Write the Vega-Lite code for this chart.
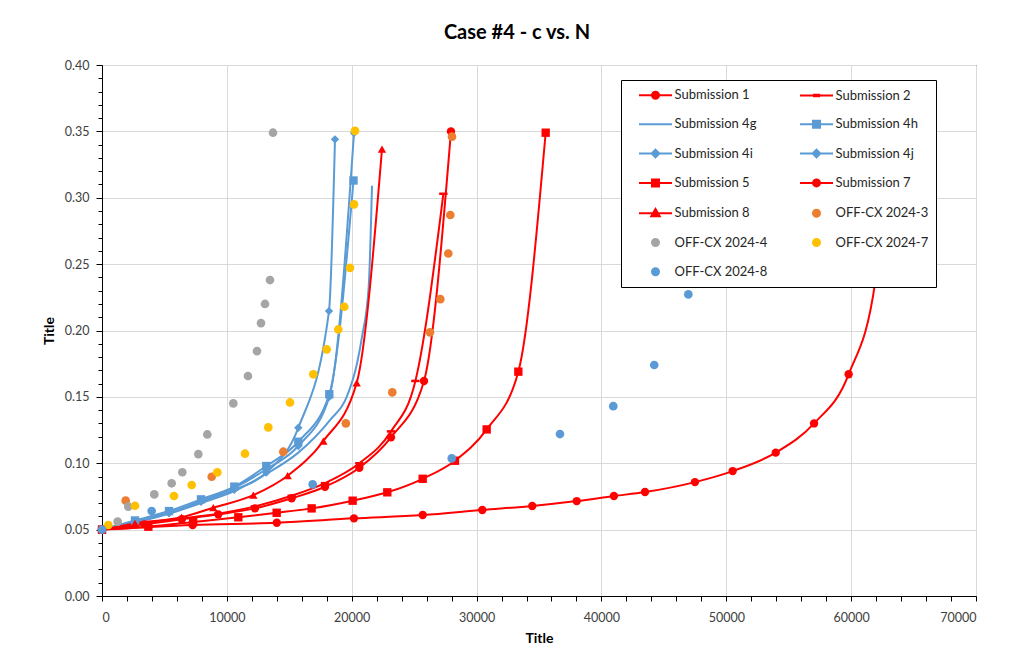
{
  "$schema": "https://vega.github.io/schema/vega-lite/v6.json",
  "width": 874,
  "height": 531,
  "autosize": "none",
  "padding": {"left": 102, "top": 65, "right": 39, "bottom": 70},
  "background": "white",
  "title": {"text": "Case #4 - c vs. N", "font": "Lato", "fontSize": 20, "fontWeight": "bold", "color": "#000000", "anchor": "middle", "dx": -22, "offset": 0, "baseline": "alphabetic"},
  "data": {"values": [
    {"s": "Submission 1", "x": 0, "y": 0.05},
    {"s": "Submission 1", "x": 3400, "y": 0.054},
    {"s": "Submission 1", "x": 6380, "y": 0.0578},
    {"s": "Submission 1", "x": 9315, "y": 0.0615},
    {"s": "Submission 1", "x": 12250, "y": 0.066},
    {"s": "Submission 1", "x": 15190, "y": 0.0736},
    {"s": "Submission 1", "x": 17860, "y": 0.0823},
    {"s": "Submission 1", "x": 20610, "y": 0.0966},
    {"s": "Submission 1", "x": 23146, "y": 0.1195},
    {"s": "Submission 1", "x": 25790, "y": 0.162},
    {"s": "Submission 1", "x": 27950, "y": 0.35},
    {"s": "Submission 2", "x": 0, "y": 0.05},
    {"s": "Submission 2", "x": 3000, "y": 0.0545},
    {"s": "Submission 2", "x": 6380, "y": 0.0585},
    {"s": "Submission 2", "x": 9315, "y": 0.062},
    {"s": "Submission 2", "x": 12250, "y": 0.0675},
    {"s": "Submission 2", "x": 15190, "y": 0.0755},
    {"s": "Submission 2", "x": 17860, "y": 0.085},
    {"s": "Submission 2", "x": 20610, "y": 0.1},
    {"s": "Submission 2", "x": 23146, "y": 0.124},
    {"s": "Submission 2", "x": 25100, "y": 0.162},
    {"s": "Submission 2", "x": 27340, "y": 0.303},
    {"s": "Submission 4g", "x": 0, "y": 0.05},
    {"s": "Submission 4g", "x": 2643, "y": 0.0555},
    {"s": "Submission 4g", "x": 5366, "y": 0.062},
    {"s": "Submission 4g", "x": 7929, "y": 0.07},
    {"s": "Submission 4g", "x": 10596, "y": 0.079},
    {"s": "Submission 4g", "x": 13159, "y": 0.092},
    {"s": "Submission 4g", "x": 15722, "y": 0.108},
    {"s": "Submission 4g", "x": 18260, "y": 0.1325},
    {"s": "Submission 4g", "x": 19600, "y": 0.15},
    {"s": "Submission 4g", "x": 20420, "y": 0.175},
    {"s": "Submission 4g", "x": 20820, "y": 0.195},
    {"s": "Submission 4g", "x": 21360, "y": 0.233},
    {"s": "Submission 4g", "x": 21625, "y": 0.309},
    {"s": "Submission 4h", "x": 0, "y": 0.05},
    {"s": "Submission 4h", "x": 2643, "y": 0.0569},
    {"s": "Submission 4h", "x": 5366, "y": 0.064},
    {"s": "Submission 4h", "x": 7929, "y": 0.0728},
    {"s": "Submission 4h", "x": 10596, "y": 0.0824},
    {"s": "Submission 4h", "x": 13159, "y": 0.0979},
    {"s": "Submission 4h", "x": 15722, "y": 0.1162},
    {"s": "Submission 4h", "x": 18204, "y": 0.152},
    {"s": "Submission 4h", "x": 20143, "y": 0.313},
    {"s": "Submission 4i", "x": 0, "y": 0.05},
    {"s": "Submission 4i", "x": 2643, "y": 0.056},
    {"s": "Submission 4i", "x": 5366, "y": 0.0625},
    {"s": "Submission 4i", "x": 7929, "y": 0.071},
    {"s": "Submission 4i", "x": 10596, "y": 0.08},
    {"s": "Submission 4i", "x": 13159, "y": 0.093},
    {"s": "Submission 4i", "x": 15722, "y": 0.1267},
    {"s": "Submission 4i", "x": 18180, "y": 0.2146},
    {"s": "Submission 4i", "x": 18660, "y": 0.344},
    {"s": "Submission 4j", "x": 0, "y": 0.05},
    {"s": "Submission 4j", "x": 2643, "y": 0.0555},
    {"s": "Submission 4j", "x": 5366, "y": 0.0625},
    {"s": "Submission 4j", "x": 7929, "y": 0.0715},
    {"s": "Submission 4j", "x": 10596, "y": 0.0815},
    {"s": "Submission 4j", "x": 13159, "y": 0.0955},
    {"s": "Submission 4j", "x": 15722, "y": 0.113},
    {"s": "Submission 4j", "x": 18204, "y": 0.15},
    {"s": "Submission 4j", "x": 20183, "y": 0.3487},
    {"s": "Submission 5", "x": 0, "y": 0.05},
    {"s": "Submission 5", "x": 3710, "y": 0.0522},
    {"s": "Submission 5", "x": 7300, "y": 0.0557},
    {"s": "Submission 5", "x": 10917, "y": 0.0593},
    {"s": "Submission 5", "x": 13990, "y": 0.0627},
    {"s": "Submission 5", "x": 16790, "y": 0.066},
    {"s": "Submission 5", "x": 20075, "y": 0.0718},
    {"s": "Submission 5", "x": 22850, "y": 0.0781},
    {"s": "Submission 5", "x": 25685, "y": 0.0883},
    {"s": "Submission 5", "x": 28270, "y": 0.1019},
    {"s": "Submission 5", "x": 30810, "y": 0.1255},
    {"s": "Submission 5", "x": 33345, "y": 0.169},
    {"s": "Submission 5", "x": 35535, "y": 0.349},
    {"s": "Submission 7", "x": 0, "y": 0.05},
    {"s": "Submission 7", "x": 7260, "y": 0.0535},
    {"s": "Submission 7", "x": 14000, "y": 0.0552},
    {"s": "Submission 7", "x": 20180, "y": 0.0585},
    {"s": "Submission 7", "x": 25690, "y": 0.061},
    {"s": "Submission 7", "x": 30460, "y": 0.0648},
    {"s": "Submission 7", "x": 34460, "y": 0.0678},
    {"s": "Submission 7", "x": 38020, "y": 0.0715},
    {"s": "Submission 7", "x": 41000, "y": 0.0753},
    {"s": "Submission 7", "x": 43490, "y": 0.0783},
    {"s": "Submission 7", "x": 47490, "y": 0.0858},
    {"s": "Submission 7", "x": 50510, "y": 0.0941},
    {"s": "Submission 7", "x": 53960, "y": 0.108},
    {"s": "Submission 7", "x": 57030, "y": 0.13},
    {"s": "Submission 7", "x": 59800, "y": 0.167},
    {"s": "Submission 7", "x": 61950, "y": 0.238},
    {"s": "Submission 7", "x": 63000, "y": 0.35},
    {"s": "Submission 8", "x": 0, "y": 0.05},
    {"s": "Submission 8", "x": 2643, "y": 0.0547},
    {"s": "Submission 8", "x": 6380, "y": 0.0593},
    {"s": "Submission 8", "x": 8915, "y": 0.0665},
    {"s": "Submission 8", "x": 12120, "y": 0.076},
    {"s": "Submission 8", "x": 14870, "y": 0.0906},
    {"s": "Submission 8", "x": 17725, "y": 0.1167},
    {"s": "Submission 8", "x": 20400, "y": 0.1606},
    {"s": "Submission 8", "x": 22425, "y": 0.3366},
    {"s": "OFF-CX 2024-3", "x": 1898, "y": 0.0718},
    {"s": "OFF-CX 2024-3", "x": 8786, "y": 0.0898},
    {"s": "OFF-CX 2024-3", "x": 14520, "y": 0.1087},
    {"s": "OFF-CX 2024-3", "x": 19530, "y": 0.13},
    {"s": "OFF-CX 2024-3", "x": 23250, "y": 0.1534},
    {"s": "OFF-CX 2024-3", "x": 26270, "y": 0.1986},
    {"s": "OFF-CX 2024-3", "x": 27095, "y": 0.2236},
    {"s": "OFF-CX 2024-3", "x": 27735, "y": 0.258},
    {"s": "OFF-CX 2024-3", "x": 27895, "y": 0.287},
    {"s": "OFF-CX 2024-3", "x": 28030, "y": 0.346},
    {"s": "OFF-CX 2024-4", "x": 1254, "y": 0.056},
    {"s": "OFF-CX 2024-4", "x": 2106, "y": 0.0673},
    {"s": "OFF-CX 2024-4", "x": 4188, "y": 0.0766},
    {"s": "OFF-CX 2024-4", "x": 5580, "y": 0.0849},
    {"s": "OFF-CX 2024-4", "x": 6433, "y": 0.0932},
    {"s": "OFF-CX 2024-4", "x": 7715, "y": 0.1069},
    {"s": "OFF-CX 2024-4", "x": 8435, "y": 0.1217},
    {"s": "OFF-CX 2024-4", "x": 10516, "y": 0.1451},
    {"s": "OFF-CX 2024-4", "x": 11690, "y": 0.1657},
    {"s": "OFF-CX 2024-4", "x": 12414, "y": 0.1845},
    {"s": "OFF-CX 2024-4", "x": 12734, "y": 0.2056},
    {"s": "OFF-CX 2024-4", "x": 13054, "y": 0.22},
    {"s": "OFF-CX 2024-4", "x": 13455, "y": 0.238},
    {"s": "OFF-CX 2024-4", "x": 13695, "y": 0.349},
    {"s": "OFF-CX 2024-7", "x": 507, "y": 0.0535},
    {"s": "OFF-CX 2024-7", "x": 2643, "y": 0.068},
    {"s": "OFF-CX 2024-7", "x": 5766, "y": 0.0753},
    {"s": "OFF-CX 2024-7", "x": 7184, "y": 0.0836},
    {"s": "OFF-CX 2024-7", "x": 9235, "y": 0.0931},
    {"s": "OFF-CX 2024-7", "x": 11453, "y": 0.1072},
    {"s": "OFF-CX 2024-7", "x": 13320, "y": 0.127},
    {"s": "OFF-CX 2024-7", "x": 15057, "y": 0.1458},
    {"s": "OFF-CX 2024-7", "x": 16923, "y": 0.167},
    {"s": "OFF-CX 2024-7", "x": 17995, "y": 0.1858},
    {"s": "OFF-CX 2024-7", "x": 18925, "y": 0.2008},
    {"s": "OFF-CX 2024-7", "x": 19405, "y": 0.2179},
    {"s": "OFF-CX 2024-7", "x": 19862, "y": 0.2472},
    {"s": "OFF-CX 2024-7", "x": 20183, "y": 0.295},
    {"s": "OFF-CX 2024-7", "x": 20263, "y": 0.3504},
    {"s": "OFF-CX 2024-8", "x": 0, "y": 0.05},
    {"s": "OFF-CX 2024-8", "x": 3978, "y": 0.064},
    {"s": "OFF-CX 2024-8", "x": 16873, "y": 0.0841},
    {"s": "OFF-CX 2024-8", "x": 28010, "y": 0.1037},
    {"s": "OFF-CX 2024-8", "x": 36680, "y": 0.122},
    {"s": "OFF-CX 2024-8", "x": 40950, "y": 0.143},
    {"s": "OFF-CX 2024-8", "x": 44230, "y": 0.174},
    {"s": "OFF-CX 2024-8", "x": 46960, "y": 0.2272}
  ]},
  "encoding": {
    "x": {
      "field": "x", "type": "quantitative",
      "scale": {"domain": [0, 70000], "nice": false, "zero": true},
      "axis": {
        "title": "Title",
        "values": [0,2000,4000,6000,8000,10000,12000,14000,16000,18000,20000,22000,24000,26000,28000,30000,32000,34000,36000,38000,40000,42000,44000,46000,48000,50000,52000,54000,56000,58000,60000,62000,64000,66000,68000,70000],
        "format": "d",
        "labelExpr": "datum.value % 10000 === 0 ? datum.label : ''",
        "labelOverlap": false,
        "gridColor": {"condition": {"test": "datum.value % 10000 === 0", "value": "#D9D9D9"}, "value": "transparent"},
        "tickSize": 5,
        "labelPadding": 10,
        "titlePadding": 8
      }
    },
    "y": {
      "field": "y", "type": "quantitative",
      "scale": {"domain": [0, 0.4], "nice": false, "zero": true},
      "axis": {
        "title": "Title",
        "values": [0,0.01,0.02,0.03,0.04,0.05,0.06,0.07,0.08,0.09,0.1,0.11,0.12,0.13,0.14,0.15,0.16,0.17,0.18,0.19,0.2,0.21,0.22,0.23,0.24,0.25,0.26,0.27,0.28,0.29,0.3,0.31,0.32,0.33,0.34,0.35,0.36,0.37,0.38,0.39,0.4],
        "format": ".2f",
        "labelExpr": "abs(datum.value*20 - round(datum.value*20)) < 0.001 ? datum.label : ''",
        "labelOverlap": false,
        "gridColor": {"condition": {"test": "abs(datum.value*20 - round(datum.value*20)) < 0.001", "value": "#D9D9D9"}, "value": "transparent"},
        "tickSize": {"condition": {"test": "abs(datum.value*20 - round(datum.value*20)) < 0.001", "value": 6}, "value": 4},
        "labelPadding": 7,
        "titlePadding": 8
      }
    },
    "color": {
      "field": "s", "type": "nominal",
      "scale": {
        "domain": ["Submission 1", "Submission 2", "Submission 4g", "Submission 4h", "Submission 4i", "Submission 4j", "Submission 5", "Submission 7", "Submission 8", "OFF-CX 2024-3", "OFF-CX 2024-4", "OFF-CX 2024-7", "OFF-CX 2024-8"],
        "range": ["#FF0000", "#FF0000", "#5B9BD5", "#5B9BD5", "#5B9BD5", "#5B9BD5", "#FF0000", "#FF0000", "#FF0000", "#ED7D31", "#A5A5A5", "#FFC000", "#5B9BD5"]
      },
      "legend": {
        "orient": "none",
        "direction": "horizontal",
        "legendX": 519,
        "legendY": 15,
        "columns": 2,
        "title": null,
        "fillColor": "white",
        "strokeColor": "#000000",
        "padding": 7,
        "labelFont": "Lato",
        "labelFontSize": 13,
        "labelColor": "#262626",
        "labelLimit": 200,
        "symbolSize": 196,
        "symbolStrokeWidth": 2,
        "symbolOffset": 19.5,
        "labelOffset": 11,
        "rowPadding": 13.3,
        "columnPadding": 21,
        "encode": {
          "symbols": {
            "update": {
              "shape": {"signal": "['M-2.36,0L2.36,0M-0.5,0A0.5,0.5,0,1,1,0.5,0A0.5,0.5,0,1,1,-0.5,0Z', 'M-2.36,0L2.36,0M-0.35,-0.1L0.35,-0.1L0.35,0.1L-0.35,0.1Z', 'M-2.36,0L2.36,0', 'M-2.36,0L2.36,0M-0.5,-0.5L0.5,-0.5L0.5,0.5L-0.5,0.5Z', 'M-2.36,0L2.36,0M0,-0.55L0.55,0L0,0.55L-0.55,0Z', 'M-2.36,0L2.36,0M0,-0.55L0.55,0L0,0.55L-0.55,0Z', 'M-2.36,0L2.36,0M-0.5,-0.5L0.5,-0.5L0.5,0.5L-0.5,0.5Z', 'M-2.36,0L2.36,0M-0.5,0A0.5,0.5,0,1,1,0.5,0A0.5,0.5,0,1,1,-0.5,0Z', 'M-2.36,0L2.36,0M0,-0.6L0.6,0.42L-0.6,0.42Z', 'M-0.5,0A0.5,0.5,0,1,1,0.5,0A0.5,0.5,0,1,1,-0.5,0Z', 'M-0.5,0A0.5,0.5,0,1,1,0.5,0A0.5,0.5,0,1,1,-0.5,0Z', 'M-0.5,0A0.5,0.5,0,1,1,0.5,0A0.5,0.5,0,1,1,-0.5,0Z', 'M-0.5,0A0.5,0.5,0,1,1,0.5,0A0.5,0.5,0,1,1,-0.5,0Z'][datum.index]"},
              "fill": {"scale": "color", "field": "value"},
              "stroke": {"scale": "color", "field": "value"},
              "strokeWidth": {"value": 2},
              "size": {"value": 196},
              "opacity": {"value": 1},
              "fillOpacity": {"value": 1},
              "strokeOpacity": {"value": 1}
            }
          }
        }
      }
    }
  },
  "layer": [
    {
      "transform": [{"filter": "indexof(datum.s, 'Submission') === 0"}],
      "mark": {"type": "line", "interpolate": "monotone", "strokeWidth": 2}
    },
    {
      "transform": [{"filter": "indexof(datum.s, 'Submission') === 0 && datum.s !== 'Submission 4g'"}],
      "mark": {"type": "point", "filled": true, "opacity": 1, "size": 70, "strokeWidth": 0},
      "encoding": {
        "shape": {
          "field": "s", "type": "nominal",
          "scale": {
            "domain": ["Submission 1", "Submission 2", "Submission 4h", "Submission 4i", "Submission 4j", "Submission 5", "Submission 7", "Submission 8"],
            "range": ["circle", "M-1,-0.3L1,-0.3L1,0.3L-1,0.3Z", "square", "diamond", "diamond", "square", "circle", "triangle-up"]
          },
          "legend": null
        }
      }
    },
    {
      "transform": [{"filter": "indexof(datum.s, 'OFF') === 0"}],
      "mark": {"type": "circle", "size": 75, "opacity": 1}
    }
  ],
  "config": {
    "font": "Lato",
    "view": {"stroke": "#000000", "strokeWidth": 1},
    "axis": {
      "domainColor": "#000000",
      "tickColor": "#000000",
      "labelFont": "Lato",
      "labelFontSize": 12.5,
      "labelColor": "#404040",
      "titleFont": "Lato",
      "titleFontSize": 14,
      "titleFontWeight": "bold",
      "titleColor": "#000000",
      "gridWidth": 1
    }
  }
}
